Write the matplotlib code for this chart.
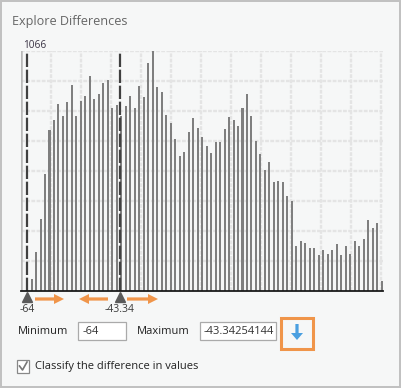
import numpy as np
import matplotlib
matplotlib.use("Agg")
import matplotlib.pyplot as plt
import matplotlib.transforms as mtransforms
from matplotlib.patches import Rectangle

# histogram of differences, one bin per unit
bins = list(range(-64, 16))
counts = [8, 52, 172, 319, 519, 715, 759, 830, 777, 839,
          915, 777, 844, 866, 955, 852, 875, 924, 937, 812,
          826, 777, 821, 866, 812, 910, 861, 1013, 1066, 906,
          884, 781, 746, 675, 599, 617, 706, 768, 724, 683,
          643, 612, 661, 661, 719, 772, 759, 732, 812, 875,
          777, 666, 608, 537, 572, 483, 488, 483, 421, 399,
          199, 221, 212, 190, 190, 159, 181, 163, 181, 208,
          159, 199, 163, 221, 199, 230, 314, 279, 301, 43]
y_max = 1066
min_value = -64
max_value = -43.34254144
min_label = "-64"
max_label = "-43.34"
max_box_text = "-43.34254144"

bg = "#f6f7f7"
font = ["Open Sans", "DejaVu Sans"]

W, H = 401, 388
fig = plt.figure(figsize=(W / 100, H / 100), dpi=100, facecolor=bg)

# overlay in pixel coordinates for the panel widgets
ui = fig.add_axes([0, 0, 1, 1], zorder=0)
ui.set_xlim(0, W)
ui.set_ylim(H, 0)
ui.axis("off")
ui.patch.set_alpha(0)

# chart area, pixel box 21..383 x 51..291
left, right, top, bottom = 21, 383, 51, 291
ax = fig.add_axes([left / W, 1 - bottom / H, (right - left) / W, (bottom - top) / H], zorder=1)
ax.set_facecolor("none")
x0, x1 = -65.35, 15.3
ax.set_xlim(x0, x1)
ax.set_ylim(0, y_max)

# dotted grid, 30 px cells
grid_kw = dict(color="#e4e4e4", lw=1.7, ls=(0, (1.6, 0.6)), zorder=0)
for k in range(13):
    gx = x0 + k * 30 / (right - left) * (x1 - x0)
    ax.axvline(gx, **grid_kw)
for k in range(1, 9):
    ax.axhline(y_max * k / 8, **grid_kw)

ax.bar(bins, counts, width=0.45, color="#7f7f7f", zorder=2)

ax.axvline(min_value, color="#404040", lw=1.6, ls=(0, (6, 1.2)), zorder=3)
ax.axvline(max_value, color="#404040", lw=1.6, ls=(0, (6, 1.2)), zorder=3)

for s in ax.spines.values():
    s.set_visible(False)
ax.axvline(x0, color="#b8b8b8", lw=1.8, zorder=1)
ax.axhline(0, color="#1a1a1a", lw=1.3, zorder=4, clip_on=False)
ax.set_xticks([])
ax.set_yticks([])

ax.text(x0 + 0.4, 1.0, str(y_max), transform=mtransforms.blended_transform_factory(ax.transData, ax.transAxes),
        fontsize=7.2, color="#3a3344", family=font, ha="left", va="bottom")

# slider handles and labels
blend = mtransforms.blended_transform_factory(ax.transData, ax.transAxes)
for v, lab in [(min_value, min_label), (max_value, max_label)]:
    ax.plot(v, -0.026, marker="^", ms=7.5, color="#5a5a5a", transform=blend, clip_on=False, zorder=5)
    ax.text(v, -0.075, lab, transform=blend, ha="center", va="center", fontsize=7.5,
            color="#3a3a3a", family=font)

orange = "#f0954a"
for xs, xe in [(35, 64), (108, 79), (127, 158)]:
    ui.arrow(xs, 299, xe - xs, 0, width=3.2, head_width=10, head_length=10,
             length_includes_head=True, color=orange, lw=0)

# title
ui.text(12, 22, "Explore Differences", fontsize=9.1, color="#666666", family=font, va="center", ha="left")

# minimum / maximum fields
ui.text(18, 331, "Minimum", fontsize=8, color="#222222", family=font, va="center")
ui.add_patch(Rectangle((78, 322), 48, 18, fc="white", ec="#aaaaaa", lw=0.9))
ui.text(83, 331, min_label, fontsize=8, color="#333333", family=font, va="center")
ui.text(137, 331, "Maximum", fontsize=8, color="#222222", family=font, va="center")
ui.add_patch(Rectangle((200, 322), 76, 18, fc="white", ec="#aaaaaa", lw=0.9))
ui.text(204, 331, max_box_text, fontsize=8, color="#333333", family=font, va="center")

ui.add_patch(Rectangle((281, 318), 32, 31, fc="none", ec=orange, lw=2.2))
ui.arrow(297, 324, 0, 16, width=3.2, head_width=12, head_length=7,
         length_includes_head=True, color="#4a9fe0", lw=0)

# checkbox
ui.add_patch(Rectangle((17, 360), 12, 13, fc="white", ec="#888888", lw=0.9))
ui.plot([19.5, 22.5, 27], [366, 370, 362], color="#777777", lw=1.2)
ui.text(35, 367, "Classify the difference in values", fontsize=8, color="#222222", family=font, va="center")

# panel border
ui.add_patch(Rectangle((0.8, 0.8), W - 1.8, H - 2.2, fc="none", ec="#c0c0c0", lw=1.4))

fig.savefig("out.png", dpi=100, facecolor=bg)
